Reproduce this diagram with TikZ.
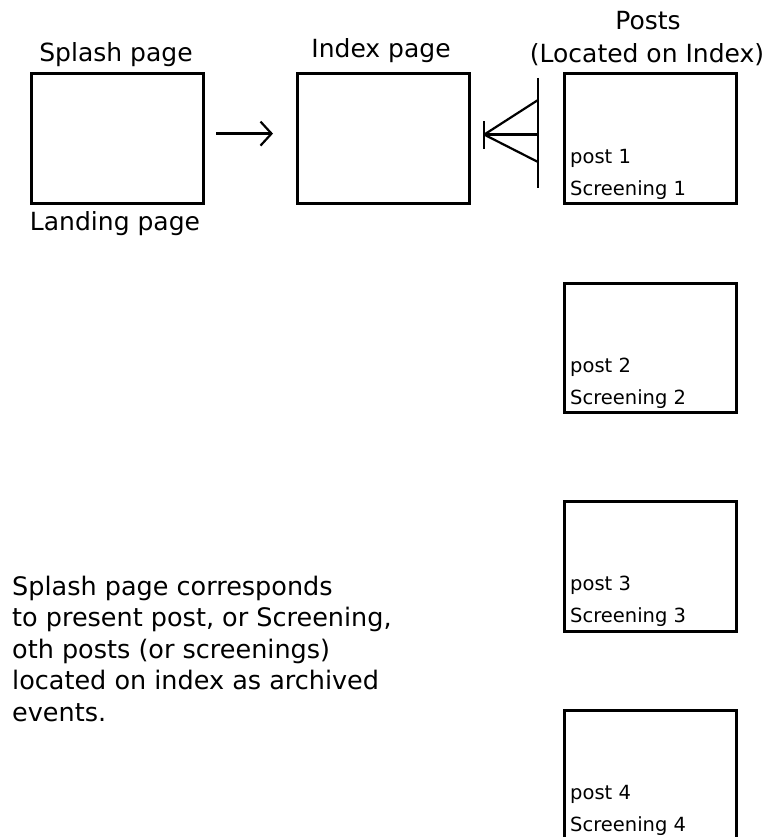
\documentclass[tikz,border=0pt]{standalone}
\usepackage{fontspec}
\setmainfont{DejaVu Sans}
\usetikzlibrary{arrows.meta}
\begin{document}
\begin{tikzpicture}[x=1pt,y=-1pt,
  pagebox/.style={draw, line width=3.2pt, rectangle, inner sep=0pt, anchor=north west},
  heading/.style={font=\fontsize{25}{30}\selectfont, inner sep=0pt, anchor=base},
  postlabel/.style={font=\fontsize{19.5}{32}\selectfont, inner sep=0pt, anchor=base west, align=left},
  link/.style={line width=2.2pt}]
\useasboundingbox (0,0) rectangle (768,837);
\clip (0,0) rectangle (768,837);

% page boxes
\node[pagebox, minimum width=172pt, minimum height=130pt] (splash) at (30,72) {};
\node[pagebox, minimum width=172pt, minimum height=130pt] (index) at (296,72) {};
\node[pagebox, minimum width=172pt, minimum height=130pt] (p1) at (563,72) {};
\node[pagebox, minimum width=172pt, minimum height=129pt] (p2) at (563,282) {};
\node[pagebox, minimum width=172pt, minimum height=130pt] (p3) at (563,500) {};
\node[pagebox, minimum width=172pt, minimum height=130pt] (p4) at (563,709) {};

% headings
\node[heading] (splashtitle) at (116,62) {Splash page};
\node[heading] (landing) at (115,230) {Landing page};
\node[heading] (indextitle) at (381,58) {Index page};
\node[heading] (poststitle) at (648,30) {Posts};
\node[heading] (located) at (647,63) {(Located on Index)};

% post labels (anchored at the baseline of their last line)
\node[postlabel] (l1) at (570,195) {post 1\\Screening 1};
\node[postlabel] (l2) at (570,404) {post 2\\Screening 2};
\node[postlabel] (l3) at (570,622) {post 3\\Screening 3};
\node[postlabel] (l4) at (570,831) {post 4\\Screening 4};

% note
\node[font=\fontsize{25.5}{31.5}\selectfont, inner sep=0pt, anchor=base west, align=left] (note) at (12,721)
  {Splash page corresponds\\to present post, or Screening,\\oth posts (or screenings)\\located on index as archived\\events.};

% splash -> index
\draw[link, -{Straight Barb[length=11pt,width=24pt]}]
  ([xshift=11pt,yshift=5pt]splash.east) -- ([xshift=-23pt,yshift=5pt]index.west);

% crow's foot: many posts to one index
\coordinate (apex) at ([xshift=13pt,yshift=4pt]index.east);
\coordinate (bartop) at ([xshift=-25pt]p1.north west |- 0,78);
\coordinate (barbot) at ([xshift=-25pt]p1.north west |- 0,188);
\draw[link] (bartop) -- (barbot);
\draw[link] (apex) -- (bartop |- 0,100);
\draw[link] (apex) -- (bartop |- apex);
\draw[link] (apex) -- (bartop |- 0,162);
\draw[link] ([yshift=-14pt]apex) -- ([yshift=14pt]apex);
\end{tikzpicture}
\end{document}
